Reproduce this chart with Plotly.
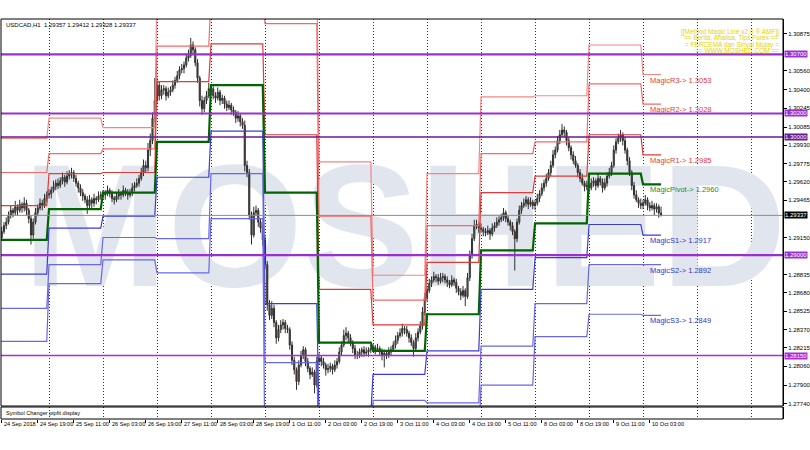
import plotly.graph_objects as go

# ---------------- data ----------------
# Hourly USDCAD bars. Bar index = trading hours counted from 24 Sep 2018 00:00
# (24 bars per trading day, weekend skipped as on the MT4 chart).
first_bar = 3
first_open = 1.2915
bar_close = [
    1.2920, 1.2925, 1.2928, 1.2934, 1.2938, 1.2936, 1.2941, 1.2938, 1.2943, 1.2940, 1.2944,
    1.2938, 1.2931, 1.2917, 1.2928, 1.2936, 1.2940, 1.2944, 1.2942, 1.2948, 1.2951,
    1.2952, 1.2955, 1.2958, 1.2961, 1.2959, 1.2963, 1.2966, 1.2962, 1.2967, 1.2969, 1.2970, 1.2965,
    1.2961, 1.2957, 1.2953, 1.2950, 1.2947, 1.2942, 1.2947, 1.2944, 1.2948, 1.2947, 1.2950, 1.2951,
    1.2951, 1.2952, 1.2955, 1.2952, 1.2948, 1.2947, 1.2950, 1.2952, 1.2951, 1.2955, 1.2953, 1.2951,
    1.2953, 1.2957, 1.2959, 1.2961, 1.2965, 1.2970, 1.2976, 1.2974, 1.2989, 1.2997, 1.3016, 1.3031,
    1.3044, 1.3035, 1.3040, 1.3041, 1.3035, 1.3038, 1.3040, 1.3044, 1.3048, 1.3052, 1.3057, 1.3058,
    1.3061, 1.3067, 1.3069, 1.3078, 1.3074, 1.3063, 1.3050, 1.3031, 1.3024, 1.3031, 1.3035, 1.3041,
    1.3041, 1.3035, 1.3033, 1.3038, 1.3031, 1.3033, 1.3028, 1.3025, 1.3027, 1.3023, 1.3021, 1.3016,
    1.3018, 1.3013, 1.3010, 1.2976, 1.2970, 1.2934, 1.2917, 1.2936, 1.2938, 1.2928, 1.2923, 1.2913,
    1.2892, 1.2858, 1.2849, 1.2855, 1.2843, 1.2830, 1.2837, 1.2841, 1.2843, 1.2838, 1.2837, 1.2824,
    1.2811, 1.2803, 1.2793, 1.2807, 1.2815, 1.2820, 1.2810, 1.2804, 1.2799, 1.2801, 1.2790, 1.2810,
    1.2813, 1.2810, 1.2807, 1.2803, 1.2804, 1.2806, 1.2803, 1.2807, 1.2810, 1.2818, 1.2824, 1.2832,
    1.2834, 1.2830, 1.2826, 1.2821, 1.2815, 1.2815, 1.2818, 1.2820, 1.2817, 1.2818, 1.2820, 1.2821,
    1.2822, 1.2820, 1.2821, 1.2818, 1.2815, 1.2817, 1.2815, 1.2818, 1.2820, 1.2824, 1.2828, 1.2832,
    1.2834, 1.2838, 1.2837, 1.2834, 1.2830, 1.2826, 1.2821, 1.2830, 1.2835, 1.2840, 1.2852, 1.2864,
    1.2870, 1.2876, 1.2879, 1.2882, 1.2881, 1.2878, 1.2881, 1.2882, 1.2879, 1.2877, 1.2875, 1.2879,
    1.2877, 1.2872, 1.2869, 1.2866, 1.2870, 1.2865, 1.2881, 1.2900, 1.2914, 1.2925, 1.2926, 1.2923,
    1.2922, 1.2920, 1.2919, 1.2921, 1.2918, 1.2923, 1.2925, 1.2928, 1.2930, 1.2932, 1.2936, 1.2931,
    1.2928, 1.2925, 1.2920, 1.2914, 1.2928, 1.2938, 1.2942, 1.2944, 1.2947, 1.2943, 1.2945, 1.2942,
    1.2944, 1.2948, 1.2952, 1.2957, 1.2961, 1.2965, 1.2970, 1.2976, 1.2985, 1.2989, 1.2997, 1.3002,
    1.3006, 1.3004, 1.2997, 1.2991, 1.2985, 1.2980, 1.2976, 1.2970, 1.2965, 1.2961, 1.2958, 1.2959,
    1.2957, 1.2961, 1.2963, 1.2959, 1.2965, 1.2962, 1.2957, 1.2961, 1.2967, 1.2970, 1.2976, 1.2989,
    1.2996, 1.2999, 1.3002, 1.2997, 1.2989, 1.2980, 1.2970, 1.2959, 1.2951, 1.2947, 1.2944, 1.2942,
    1.2944, 1.2947, 1.2942, 1.2940, 1.2942, 1.2939, 1.2941, 1.29357, 1.29337,
]
bar_high = [
    1.2924, 1.2928, 1.2932, 1.2937, 1.2942, 1.2940, 1.2946, 1.2943, 1.2947, 1.2945, 1.2949,
    1.2947, 1.2940, 1.2934, 1.2931, 1.2940, 1.2943, 1.2948, 1.2947, 1.2952, 1.2954,
    1.2956, 1.2958, 1.2963, 1.2964, 1.2965, 1.2966, 1.2970, 1.2968, 1.2971, 1.2972, 1.2974, 1.2972,
    1.2968, 1.2963, 1.2960, 1.2956, 1.2952, 1.2950, 1.2951, 1.2949, 1.2952, 1.2950, 1.2954, 1.2954,
    1.2955, 1.2955, 1.2959, 1.2957, 1.2955, 1.2950, 1.2953, 1.2956, 1.2954, 1.2959, 1.2957, 1.2956,
    1.2956, 1.2961, 1.2962, 1.2965, 1.2968, 1.2974, 1.2981, 1.2980, 1.2995, 1.3003, 1.3021, 1.3050,
    1.3050, 1.3047, 1.3044, 1.3044, 1.3043, 1.3042, 1.3043, 1.3048, 1.3051, 1.3056, 1.3060, 1.3062,
    1.3064, 1.3071, 1.3074, 1.3084, 1.3081, 1.3076, 1.3066, 1.3052, 1.3035, 1.3034, 1.3039, 1.3046,
    1.3045, 1.3043, 1.3038, 1.3042, 1.3040, 1.3036, 1.3035, 1.3031, 1.3031, 1.3029, 1.3026, 1.3023,
    1.3022, 1.3020, 1.3016, 1.3014, 1.2980, 1.2973, 1.2937, 1.2941, 1.2942, 1.2940, 1.2931, 1.2925,
    1.2916, 1.2895, 1.2862, 1.2861, 1.2858, 1.2845, 1.2841, 1.2845, 1.2846, 1.2845, 1.2841, 1.2839,
    1.2827, 1.2814, 1.2805, 1.2811, 1.2819, 1.2823, 1.2822, 1.2813, 1.2806, 1.2805, 1.2803, 1.2814,
    1.2817, 1.2815, 1.2813, 1.2809, 1.2808, 1.2809, 1.2808, 1.2811, 1.2813, 1.2822, 1.2827, 1.2837,
    1.2839, 1.2836, 1.2833, 1.2828, 1.2824, 1.2819, 1.2821, 1.2822, 1.2823, 1.2822, 1.2822, 1.2824,
    1.2825, 1.2824, 1.2825, 1.2823, 1.2821, 1.2820, 1.2819, 1.2822, 1.2823, 1.2827, 1.2832, 1.2835,
    1.2838, 1.2842, 1.2840, 1.2840, 1.2836, 1.2833, 1.2828, 1.2834, 1.2838, 1.2844, 1.2856, 1.2868,
    1.2873, 1.2880, 1.2882, 1.2886, 1.2884, 1.2884, 1.2885, 1.2885, 1.2884, 1.2882, 1.2879, 1.2883,
    1.2881, 1.2880, 1.2874, 1.2872, 1.2874, 1.2872, 1.2885, 1.2904, 1.2918, 1.2930, 1.2930, 1.2928,
    1.2927, 1.2924, 1.2923, 1.2925, 1.2923, 1.2927, 1.2928, 1.2932, 1.2933, 1.2935, 1.2940, 1.2938,
    1.2934, 1.2930, 1.2928, 1.2922, 1.2931, 1.2942, 1.2945, 1.2948, 1.2950, 1.2949, 1.2949, 1.2947,
    1.2947, 1.2952, 1.2955, 1.2961, 1.2964, 1.2969, 1.2973, 1.2980, 1.2989, 1.2992, 1.3001, 1.3006,
    1.3011, 1.3009, 1.3006, 1.3000, 1.2993, 1.2988, 1.2984, 1.2978, 1.2973, 1.2969, 1.2963, 1.2963,
    1.2962, 1.2965, 1.2966, 1.2965, 1.2969, 1.2967, 1.2965, 1.2965, 1.2970, 1.2974, 1.2979, 1.2993,
    1.2999, 1.3003, 1.3006, 1.3004, 1.3000, 1.2991, 1.2983, 1.2972, 1.2962, 1.2955, 1.2949, 1.2948,
    1.2947, 1.2951, 1.2949, 1.2945, 1.2946, 1.2944, 1.2944, 1.2943, 1.29412,
]
bar_low = [
    1.2912, 1.2918, 1.2922, 1.2926, 1.2931, 1.2932, 1.2934, 1.2934, 1.2936, 1.2936, 1.2937,
    1.2934, 1.2927, 1.2909, 1.2914, 1.2926, 1.2933, 1.2938, 1.2938, 1.2940, 1.2945,
    1.2948, 1.2948, 1.2953, 1.2955, 1.2956, 1.2957, 1.2960, 1.2958, 1.2960, 1.2964, 1.2965, 1.2962,
    1.2958, 1.2953, 1.2950, 1.2946, 1.2944, 1.2935, 1.2940, 1.2940, 1.2941, 1.2943, 1.2945, 1.2947,
    1.2948, 1.2947, 1.2950, 1.2949, 1.2945, 1.2943, 1.2945, 1.2947, 1.2947, 1.2949, 1.2950, 1.2947,
    1.2949, 1.2950, 1.2954, 1.2957, 1.2958, 1.2963, 1.2967, 1.2970, 1.2971, 1.2984, 1.2994, 1.3012,
    1.3028, 1.3031, 1.3032, 1.3036, 1.3031, 1.3033, 1.3035, 1.3038, 1.3041, 1.3046, 1.3049, 1.3054,
    1.3054, 1.3059, 1.3064, 1.3067, 1.3070, 1.3060, 1.3046, 1.3026, 1.3019, 1.3021, 1.3028, 1.3033,
    1.3038, 1.3032, 1.3029, 1.3031, 1.3027, 1.3028, 1.3024, 1.3022, 1.3023, 1.3019, 1.3018, 1.3012,
    1.3013, 1.3009, 1.3007, 1.2971, 1.2966, 1.2930, 1.2909, 1.2915, 1.2933, 1.2924, 1.2919, 1.2908,
    1.2888, 1.2853, 1.2845, 1.2846, 1.2839, 1.2825, 1.2827, 1.2834, 1.2837, 1.2834, 1.2834, 1.2820,
    1.2807, 1.2799, 1.2786, 1.2790, 1.2805, 1.2812, 1.2806, 1.2801, 1.2795, 1.2797, 1.2783, 1.2788,
    1.2807, 1.2806, 1.2804, 1.2798, 1.2800, 1.2801, 1.2799, 1.2801, 1.2804, 1.2808, 1.2815, 1.2822,
    1.2828, 1.2826, 1.2823, 1.2817, 1.2812, 1.2812, 1.2813, 1.2814, 1.2814, 1.2815, 1.2814, 1.2817,
    1.2818, 1.2816, 1.2818, 1.2815, 1.2811, 1.2805, 1.2812, 1.2813, 1.2815, 1.2818, 1.2821, 1.2825,
    1.2830, 1.2831, 1.2833, 1.2831, 1.2826, 1.2823, 1.2814, 1.2819, 1.2827, 1.2833, 1.2837, 1.2849,
    1.2861, 1.2868, 1.2873, 1.2877, 1.2877, 1.2875, 1.2876, 1.2877, 1.2876, 1.2873, 1.2872, 1.2873,
    1.2874, 1.2868, 1.2866, 1.2862, 1.2864, 1.2857, 1.2863, 1.2878, 1.2897, 1.2912, 1.2922, 1.2919,
    1.2919, 1.2916, 1.2916, 1.2917, 1.2913, 1.2916, 1.2920, 1.2923, 1.2925, 1.2928, 1.2929, 1.2928,
    1.2925, 1.2921, 1.2917, 1.2887, 1.2911, 1.2926, 1.2935, 1.2940, 1.2941, 1.2939, 1.2941, 1.2939,
    1.2938, 1.2942, 1.2945, 1.2950, 1.2954, 1.2958, 1.2963, 1.2967, 1.2974, 1.2982, 1.2987, 1.2994,
    1.3000, 1.3000, 1.2993, 1.2988, 1.2981, 1.2977, 1.2974, 1.2966, 1.2962, 1.2959, 1.2954, 1.2955,
    1.2953, 1.2955, 1.2958, 1.2955, 1.2957, 1.2959, 1.2953, 1.2955, 1.2958, 1.2965, 1.2967, 1.2974,
    1.2986, 1.2994, 1.2996, 1.2993, 1.2986, 1.2976, 1.2967, 1.2955, 1.2948, 1.2945, 1.2940, 1.2939,
    1.2939, 1.2942, 1.2938, 1.2937, 1.2938, 1.2934, 1.2936, 1.29317, 1.29328,
]
bar_open = [first_open] + bar_close[:-1]
bar_index = list(range(first_bar, first_bar + len(bar_close)))

# Daily "Magic" pivot levels, one value per trading day
trading_days = ["24 Sep", "25 Sep", "26 Sep", "27 Sep", "28 Sep", "1 Oct", "2 Oct",
                "3 Oct", "4 Oct", "5 Oct", "8 Oct", "9 Oct", "10 Oct"]
magic_r3 = [1.2999, 1.3016, 1.3008, 1.3128, 1.3154, 1.3146, 1.2979, 1.2883, 1.2969, 1.3034, 1.3035, 1.3078, 1.3053]
magic_r2 = [1.2970, 1.2986, 1.2990, 1.3077, 1.3118, 1.3096, 1.2933, 1.2862, 1.2925, 1.2986, 1.2996, 1.3045, 1.3028]
magic_r1 = [1.2942, 1.2969, 1.2970, 1.3047, 1.3079, 1.3002, 1.2871, 1.2841, 1.2894, 1.2953, 1.2967, 1.3002, 1.2985]
magic_pivot = [1.2913, 1.2939, 1.2953, 1.2996, 1.3044, 1.2953, 1.2826, 1.2819, 1.2850, 1.2904, 1.2927, 1.2969, 1.2960]
magic_s1 = [1.2884, 1.2923, 1.2933, 1.2966, 1.3005, 1.2859, 1.2764, 1.2799, 1.2819, 1.2871, 1.2898, 1.2926, 1.2917]
magic_s2 = [1.2855, 1.2892, 1.2915, 1.2914, 1.2969, 1.2809, 1.2718, 1.2777, 1.2775, 1.2823, 1.2859, 1.2892, 1.2892]
magic_s3 = [1.2827, 1.2876, 1.2896, 1.2885, 1.2931, 1.2715, 1.2656, 1.2756, 1.2744, 1.2790, 1.2831, 1.2850, 1.2849]

# Round-number horizontal levels and bid
round_levels = [1.30700, 1.30200, 1.30000, 1.29000, 1.28150]
bid_price = 1.29337
header_text = "USDCAD,H1  1.29357 1.29412 1.29328 1.29337"
watermark_text = "MOSHED"

# Axis ticks
price_ticks = [1.30875, 1.30560, 1.30400, 1.30245, 1.30085, 1.29930, 1.29775, 1.29620,
               1.29465, 1.29150, 1.28835, 1.28680, 1.28525, 1.28370, 1.28215, 1.28060,
               1.27900, 1.27740]
time_tick_bars = [3, 19, 35, 51, 67, 83, 99, 115, 131, 147, 163, 179, 195, 211, 227, 243, 259, 275, 291]
time_tick_labels = ["24 Sep 2018", "24 Sep 19:00", "25 Sep 11:00", "26 Sep 03:00", "26 Sep 19:00",
                    "27 Sep 11:00", "28 Sep 03:00", "28 Sep 19:00", "1 Oct 11:00", "2 Oct 03:00",
                    "2 Oct 19:00", "3 Oct 11:00", "4 Oct 03:00", "4 Oct 19:00", "5 Oct 11:00",
                    "8 Oct 03:00", "8 Oct 19:00", "9 Oct 11:00", "10 Oct 03:00"]

# ---------------- styling ----------------
BARS_PER_DAY = 24
X_RANGE = [2.67, 350.2]
Y_RANGE = [1.27723, 1.31000]
XD = [1 / 810, 783 / 810]
MAIN_YD = [1 - 406 / 450, 1 - 19 / 450]
SUB_YD = [1 - 419 / 450, 1 - 407 / 450]
FONT = "Liberation Sans, Arial, sans-serif"

fig = go.Figure()

# watermark on the base subplot (x, y); everything else sits on the overlaid y3 above it
fig.add_trace(go.Scatter(
    x=[182], y=[1.2911], mode="text", text=[watermark_text],
    textfont=dict(family="Liberation Sans, Arial, sans-serif", size=174, color="#e1e5ed",
                  weight="bold"),
    hoverinfo="skip", showlegend=False, cliponaxis=False))

# pivot step lines
last_bar = bar_index[-1]
level_styles = [
    ("R3", magic_r3, "#f48686", 1.2),
    ("R2", magic_r2, "#f26a6a", 1.2),
    ("R1", magic_r1, "#e03a3a", 1.2),
    ("Pivot", magic_pivot, "#006400", 2.2),
    ("S1", magic_s1, "#3c3cd2", 1.2),
    ("S2", magic_s2, "#6868e4", 1.2),
    ("S3", magic_s3, "#6868e4", 1.2),
]
for name, vals, col, w in level_styles:
    xs = list(range(0, last_bar + 1))
    ys = [vals[b // BARS_PER_DAY] for b in xs]
    fig.add_trace(go.Scatter(x=xs, y=ys, yaxis="y3", mode="lines", line=dict(color=col, width=w),
                             hoverinfo="skip", showlegend=False))

# round-number lines
round_styles = {1.30700: ("#9b30d0", 2.2), 1.30200: ("#9b30d0", 2.2), 1.30000: ("#6a1a90", 1.5),
                1.29000: ("#9b30d0", 2.2), 1.28150: ("#b028d8", 1.6)}
for lv in round_levels:
    col, w = round_styles[lv]
    fig.add_trace(go.Scatter(x=[0, 352], y=[lv, lv], yaxis="y3", mode="lines",
                             line=dict(color=col, width=w), hoverinfo="skip", showlegend=False))

# bid line
fig.add_trace(go.Scatter(x=[0, 352], y=[bid_price, bid_price], yaxis="y3", mode="lines",
                         line=dict(color="#8c8c8c", width=1), hoverinfo="skip", showlegend=False))

# candles
fig.add_trace(go.Candlestick(
    x=bar_index, open=bar_open, high=bar_high, low=bar_low, close=bar_close, yaxis="y3",
    increasing=dict(line=dict(color="#303030", width=1), fillcolor="#3f9f3f"),
    decreasing=dict(line=dict(color="#303030", width=1), fillcolor="#8a2c2c"),
    whiskerwidth=0, showlegend=False, hoverinfo="skip"))

# empty trace to create the sub-window
fig.add_trace(go.Scatter(x=[X_RANGE[0]], y=[0.5], yaxis="y2", mode="markers",
                         marker=dict(opacity=0), hoverinfo="skip", showlegend=False))

annotations = []
# pivot labels for the current day
label_bar = last_bar - 6
label_specs = [("MagicR3", magic_r3[-1], "#e03c3c"), ("MagicR2", magic_r2[-1], "#e03c3c"),
               ("MagicR1", magic_r1[-1], "#e03c3c"), ("MagicPivot", magic_pivot[-1], "#1f8a1f"),
               ("MagicS1", magic_s1[-1], "#3434c8"), ("MagicS2", magic_s2[-1], "#3434c8"),
               ("MagicS3", magic_s3[-1], "#3434c8")]
for nm, v, col in label_specs:
    annotations.append(dict(x=label_bar, y=v, xref="x", yref="y", xanchor="left", yanchor="top",
                            text=f"{nm}-> {v:.4f}", showarrow=False,
                            font=dict(family=FONT, size=7.5, color=col), yshift=1))

# price labels on the axis for round levels and bid
for lv in round_levels:
    col, _ = round_styles[lv]
    annotations.append(dict(x=XD[1] + 0.001, y=lv, xref="paper", yref="y", xanchor="left",
                            yanchor="middle", text=f"{lv:.5f}", showarrow=False, bgcolor=col,
                            font=dict(family=FONT, size=6, color="white"), borderpad=0))
annotations.append(dict(x=XD[1] + 0.001, y=bid_price, xref="paper", yref="y", xanchor="left",
                        yanchor="middle", text=f"{bid_price:.5f}", showarrow=False, bgcolor="#000000",
                        font=dict(family=FONT, size=6, color="white"), borderpad=0))

# time labels (MT4 style, left aligned at tick)
for b, t in zip(time_tick_bars, time_tick_labels):
    annotations.append(dict(x=b, y=1 - 424 / 450, xref="x", yref="paper", xanchor="left",
                            yanchor="middle", text=t, showarrow=False,
                            font=dict(family=FONT, size=5.6, color="#000000")))

# header and sub-window caption
annotations.append(dict(x=4 / 810, y=1 - 25 / 450, xref="paper", yref="paper", xanchor="left",
                        yanchor="middle", text=header_text, showarrow=False,
                        font=dict(family=FONT, size=6, color="#000000")))
annotations.append(dict(x=4 / 810, y=1 - 413 / 450, xref="paper", yref="paper", xanchor="left",
                        yanchor="middle", text="Symbol Changer pipfit display", showarrow=False,
                        font=dict(family=FONT, size=5.6, color="#000000")))
# yellow info block
info_lines = ["[[Method Magic Line v2.0 \u00ae AMF]]", "== Berita, Analisa, Tips Forex ==",
              "= FERCEMA dan Sinyal Mujay =", "== WWW.MOSHED.COM =="]
for i, ln in enumerate(info_lines):
    annotations.append(dict(x=781 / 810, y=1 - (32 + 6.3 * i) / 450, xref="paper", yref="paper",
                            xanchor="right", yanchor="middle", text=ln, showarrow=False,
                            font=dict(family=FONT, size=6.5, color="#e6d200")))

shapes = [
    dict(type="rect", xref="paper", yref="paper", x0=XD[0], x1=XD[1], y0=MAIN_YD[0], y1=MAIN_YD[1],
         line=dict(color="#000000", width=1)),
    dict(type="rect", xref="paper", yref="paper", x0=XD[0], x1=XD[1], y0=SUB_YD[0], y1=SUB_YD[1],
         line=dict(color="#000000", width=1)),
]

fig.update_layout(
    width=810, height=450, margin=dict(l=0, r=0, t=0, b=0),
    paper_bgcolor="white", plot_bgcolor="white", showlegend=False,
    font=dict(family=FONT, color="#000000"),
    xaxis=dict(domain=XD, range=X_RANGE, anchor="y2", rangeslider=dict(visible=False),
               tickmode="array", tickvals=time_tick_bars, showticklabels=False,
               ticks="outside", ticklen=3, tickcolor="#000000", showgrid=False, zeroline=False,
               minor=dict(tickmode="linear", tick0=0, dtick=BARS_PER_DAY, showgrid=True,
                          griddash="1px,2px", gridcolor="#333333", gridwidth=1)),
    yaxis=dict(domain=MAIN_YD, range=Y_RANGE, side="right", anchor="x",
               tickmode="array", tickvals=price_ticks, ticktext=[f"{v:.5f}" for v in price_ticks],
               tickfont=dict(family=FONT, size=6, color="#000000"), ticks="outside", ticklen=3,
               tickcolor="#000000", showgrid=False, zeroline=False, showline=True,
               linecolor="#000000", linewidth=1),
    yaxis2=dict(domain=SUB_YD, range=[0, 1], side="right", anchor="x", showticklabels=False,
                showgrid=False, zeroline=False, showline=True, linecolor="#000000"),
    yaxis3=dict(overlaying="y", range=Y_RANGE, anchor="x", side="right", visible=False,
                showgrid=False, zeroline=False),
    annotations=annotations, shapes=shapes,
)

# page body margin removed so the 810x450 figure sits at the window's top-left corner
fig.write_html("out.html", config={"displayModeBar": False},
               post_script="document.body.style.margin='0';")
